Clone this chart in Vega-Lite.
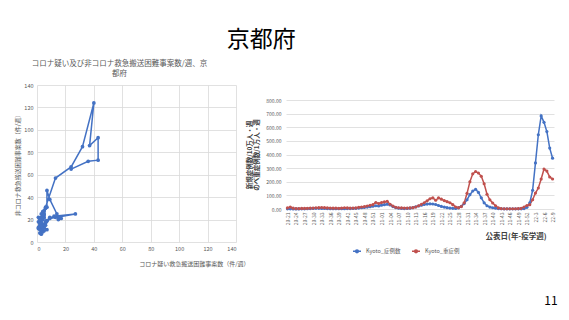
{
  "$schema": "https://vega.github.io/schema/vega-lite/v6.json",
  "background": "white",
  "padding": {"left": 14, "top": 28, "right": 5, "bottom": 5},
  "title": {"text": "京都府", "fontSize": 23, "font": "Noto Sans CJK JP", "fontWeight": "normal", "color": "#000000", "anchor": "middle", "dx": -25, "offset": 8},
  "config": {
    "font": "Noto Sans CJK JP",
    "view": {"stroke": null},
    "axis": {"gridColor": "#D9D9D9", "gridWidth": 0.8, "domain": false, "ticks": false, "labelColor": "#595959", "labelFontSize": 5.5, "titleColor": "#595959", "titleFontWeight": "normal", "labelFont": "Noto Sans CJK JP", "titleFont": "Noto Sans CJK JP"}
  },
  "bounds": "flush",
  "spacing": 50,
  "resolve": {"legend": {"color": "independent"}, "scale": {"color": "independent"}},
  "hconcat": [
    {
      "width": 199,
      "height": 157,
      "title": {"text": ["コロナ疑い及び非コロナ救急搬送困難事案数/週、京", "都府"], "fontSize": 7.5, "color": "#595959", "fontWeight": "normal", "dx": -17, "offset": 6, "lineHeight": 10},
      "data": {"values": [
        {"i": 1, "x": 1, "y": 18}, {"i": 2, "x": 2, "y": 14}, {"i": 3, "x": 3, "y": 10}, {"i": 4, "x": 2, "y": 12},
        {"i": 5, "x": 4, "y": 16}, {"i": 6, "x": 3, "y": 22}, {"i": 7, "x": 1, "y": 22}, {"i": 8, "x": 2, "y": 17},
        {"i": 9, "x": 4, "y": 12}, {"i": 10, "x": 3, "y": 7}, {"i": 11, "x": 2, "y": 8}, {"i": 12, "x": 5, "y": 10},
        {"i": 13, "x": 4, "y": 14}, {"i": 14, "x": 6, "y": 18}, {"i": 15, "x": 5, "y": 25}, {"i": 16, "x": 4, "y": 27},
        {"i": 17, "x": 6, "y": 30}, {"i": 18, "x": 5, "y": 22}, {"i": 19, "x": 3, "y": 25}, {"i": 20, "x": 4, "y": 20},
        {"i": 21, "x": 2, "y": 15}, {"i": 22, "x": 1, "y": 12}, {"i": 23, "x": 3, "y": 16}, {"i": 24, "x": 5, "y": 13},
        {"i": 25, "x": 7, "y": 11}, {"i": 26, "x": 4, "y": 9}, {"i": 27, "x": 3, "y": 13}, {"i": 28, "x": 2, "y": 20},
        {"i": 29, "x": 5, "y": 28}, {"i": 30, "x": 7, "y": 31}, {"i": 31, "x": 7, "y": 46}, {"i": 32, "x": 9, "y": 38},
        {"i": 33, "x": 14, "y": 25}, {"i": 34, "x": 15, "y": 20}, {"i": 35, "x": 17, "y": 21}, {"i": 36, "x": 16, "y": 22},
        {"i": 37, "x": 13, "y": 22}, {"i": 38, "x": 9, "y": 22}, {"i": 39, "x": 7, "y": 19}, {"i": 40, "x": 5, "y": 15},
        {"i": 41, "x": 4, "y": 12}, {"i": 42, "x": 6, "y": 15}, {"i": 43, "x": 9, "y": 21}, {"i": 44, "x": 27, "y": 25},
        {"i": 45, "x": 12, "y": 23}, {"i": 46, "x": 6, "y": 18}, {"i": 47, "x": 3, "y": 14}, {"i": 48, "x": 2, "y": 11},
        {"i": 49, "x": 1, "y": 13}, {"i": 50, "x": 3, "y": 17}, {"i": 51, "x": 5, "y": 24}, {"i": 52, "x": 6, "y": 31},
        {"i": 53, "x": 13, "y": 57}, {"i": 54, "x": 24, "y": 67}, {"i": 55, "x": 32, "y": 85}, {"i": 56, "x": 40, "y": 124},
        {"i": 57, "x": 37, "y": 86}, {"i": 58, "x": 43, "y": 93}, {"i": 59, "x": 43, "y": 73}, {"i": 60, "x": 36, "y": 72},
        {"i": 61, "x": 24, "y": 65}
      ]},
      "mark": {"type": "line", "color": "#4472C4", "strokeWidth": 1.5, "point": {"filled": true, "size": 14, "color": "#4472C4"}},
      "encoding": {
        "x": {"field": "x", "type": "quantitative", "scale": {"domain": [0, 140], "nice": false}, "axis": {"values": [0, 20, 40, 60, 80, 100, 120, 140], "title": "コロナ疑い救急搬送困難事案数（件/週）", "titleFontSize": 6, "labelPadding": 4, "titleX": 212, "titleY": 21, "titleAlign": "right", "titleBaseline": "middle"}},
        "y": {"field": "y", "type": "quantitative", "scale": {"domain": [0, 140], "nice": false}, "axis": {"values": [0, 20, 40, 60, 80, 100, 120, 140], "title": "非コロナ救急搬送困難事案数（件/週）", "titleFontSize": 6, "labelPadding": 4, "titlePadding": 3}},
        "order": {"field": "i", "type": "quantitative"}
      }
    },
    {
      "bounds": "flush",
      "spacing": 0,
      "resolve": {"legend": {"color": "independent"}, "scale": {"color": "independent"}},
      "vconcat": [
        {
          "width": 268,
          "height": 15,
          "data": {"values": []},
          "mark": {"type": "rule"},
          "encoding": {}
        },
        {
          "width": 268,
          "height": 109,
          "title": {"text": "11", "orient": "bottom", "anchor": "end", "fontSize": 12, "fontWeight": "normal", "color": "#000000", "offset": 40, "dx": 2},
          "data": {"values": [
            {"w": "20-21", "Kyoto_症例数": 1, "Kyoto_重症例": 8},
            {"w": "20-22", "Kyoto_症例数": 1, "Kyoto_重症例": 14},
            {"w": "20-23", "Kyoto_症例数": 0.5, "Kyoto_重症例": 6},
            {"w": "20-24", "Kyoto_症例数": 0.5, "Kyoto_重症例": 3},
            {"w": "20-25", "Kyoto_症例数": 0.5, "Kyoto_重症例": 3},
            {"w": "20-26", "Kyoto_症例数": 1, "Kyoto_重症例": 4},
            {"w": "20-27", "Kyoto_症例数": 1, "Kyoto_重症例": 4},
            {"w": "20-28", "Kyoto_症例数": 2, "Kyoto_重症例": 5},
            {"w": "20-29", "Kyoto_症例数": 3, "Kyoto_重症例": 6},
            {"w": "20-30", "Kyoto_症例数": 4, "Kyoto_重症例": 7},
            {"w": "20-31", "Kyoto_症例数": 5, "Kyoto_重症例": 9},
            {"w": "20-32", "Kyoto_症例数": 5, "Kyoto_重症例": 10},
            {"w": "20-33", "Kyoto_症例数": 4, "Kyoto_重症例": 11},
            {"w": "20-34", "Kyoto_症例数": 4, "Kyoto_重症例": 10},
            {"w": "20-35", "Kyoto_症例数": 3, "Kyoto_重症例": 8},
            {"w": "20-36", "Kyoto_症例数": 2, "Kyoto_重症例": 7},
            {"w": "20-37", "Kyoto_症例数": 2, "Kyoto_重症例": 6},
            {"w": "20-38", "Kyoto_症例数": 2, "Kyoto_重症例": 6},
            {"w": "20-39", "Kyoto_症例数": 2, "Kyoto_重症例": 5},
            {"w": "20-40", "Kyoto_症例数": 2, "Kyoto_重症例": 7},
            {"w": "20-41", "Kyoto_症例数": 2, "Kyoto_重症例": 9},
            {"w": "20-42", "Kyoto_症例数": 3, "Kyoto_重症例": 8},
            {"w": "20-43", "Kyoto_症例数": 3, "Kyoto_重症例": 6},
            {"w": "20-44", "Kyoto_症例数": 4, "Kyoto_重症例": 7},
            {"w": "20-45", "Kyoto_症例数": 5, "Kyoto_重症例": 8},
            {"w": "20-46", "Kyoto_症例数": 7, "Kyoto_重症例": 12},
            {"w": "20-47", "Kyoto_症例数": 9, "Kyoto_重症例": 15},
            {"w": "20-48", "Kyoto_症例数": 11, "Kyoto_重症例": 18},
            {"w": "20-49", "Kyoto_症例数": 14, "Kyoto_重症例": 22},
            {"w": "20-50", "Kyoto_症例数": 17, "Kyoto_重症例": 27},
            {"w": "20-51", "Kyoto_症例数": 20, "Kyoto_重症例": 32},
            {"w": "20-52", "Kyoto_症例数": 24, "Kyoto_重症例": 48},
            {"w": "20-53", "Kyoto_症例数": 22, "Kyoto_重症例": 40},
            {"w": "21-01", "Kyoto_症例数": 28, "Kyoto_重症例": 47},
            {"w": "21-02", "Kyoto_症例数": 32, "Kyoto_重症例": 52},
            {"w": "21-03", "Kyoto_症例数": 35, "Kyoto_重症例": 56},
            {"w": "21-04", "Kyoto_症例数": 30, "Kyoto_重症例": 35},
            {"w": "21-05", "Kyoto_症例数": 18, "Kyoto_重症例": 22},
            {"w": "21-06", "Kyoto_症例数": 10, "Kyoto_重症例": 13},
            {"w": "21-07", "Kyoto_症例数": 6, "Kyoto_重症例": 9},
            {"w": "21-08", "Kyoto_症例数": 4, "Kyoto_重症例": 8},
            {"w": "21-09", "Kyoto_症例数": 3, "Kyoto_重症例": 7},
            {"w": "21-10", "Kyoto_症例数": 4, "Kyoto_重症例": 7},
            {"w": "21-11", "Kyoto_症例数": 6, "Kyoto_重症例": 8},
            {"w": "21-12", "Kyoto_症例数": 10, "Kyoto_重症例": 10},
            {"w": "21-13", "Kyoto_症例数": 16, "Kyoto_重症例": 15},
            {"w": "21-14", "Kyoto_症例数": 22, "Kyoto_重症例": 24},
            {"w": "21-15", "Kyoto_症例数": 28, "Kyoto_重症例": 34},
            {"w": "21-16", "Kyoto_症例数": 33, "Kyoto_重症例": 46},
            {"w": "21-17", "Kyoto_症例数": 36, "Kyoto_重症例": 60},
            {"w": "21-18", "Kyoto_症例数": 38, "Kyoto_重症例": 75},
            {"w": "21-19", "Kyoto_症例数": 37, "Kyoto_重症例": 82},
            {"w": "21-20", "Kyoto_症例数": 33, "Kyoto_重症例": 64},
            {"w": "21-21", "Kyoto_症例数": 26, "Kyoto_重症例": 82},
            {"w": "21-22", "Kyoto_症例数": 19, "Kyoto_重症例": 72},
            {"w": "21-23", "Kyoto_症例数": 14, "Kyoto_重症例": 62},
            {"w": "21-24", "Kyoto_症例数": 10, "Kyoto_重症例": 54},
            {"w": "21-25", "Kyoto_症例数": 7, "Kyoto_重症例": 46},
            {"w": "21-26", "Kyoto_症例数": 5, "Kyoto_重症例": 32},
            {"w": "21-27", "Kyoto_症例数": 4, "Kyoto_重症例": 15},
            {"w": "21-28", "Kyoto_症例数": 8, "Kyoto_重症例": 10},
            {"w": "21-29", "Kyoto_症例数": 20, "Kyoto_重症例": 18},
            {"w": "21-30", "Kyoto_症例数": 40, "Kyoto_重症例": 45},
            {"w": "21-31", "Kyoto_症例数": 68, "Kyoto_重症例": 115},
            {"w": "21-32", "Kyoto_症例数": 105, "Kyoto_重症例": 200},
            {"w": "21-33", "Kyoto_症例数": 132, "Kyoto_重症例": 258},
            {"w": "21-34", "Kyoto_症例数": 145, "Kyoto_重症例": 275},
            {"w": "21-35", "Kyoto_症例数": 122, "Kyoto_重症例": 264},
            {"w": "21-36", "Kyoto_症例数": 82, "Kyoto_重症例": 240},
            {"w": "21-37", "Kyoto_症例数": 45, "Kyoto_重症例": 185},
            {"w": "21-38", "Kyoto_症例数": 24, "Kyoto_重症例": 108},
            {"w": "21-39", "Kyoto_症例数": 14, "Kyoto_重症例": 68},
            {"w": "21-40", "Kyoto_症例数": 9, "Kyoto_重症例": 44},
            {"w": "21-41", "Kyoto_症例数": 6, "Kyoto_重症例": 24},
            {"w": "21-42", "Kyoto_症例数": 3, "Kyoto_重症例": 8},
            {"w": "21-43", "Kyoto_症例数": 2, "Kyoto_重症例": 3},
            {"w": "21-44", "Kyoto_症例数": 1, "Kyoto_重症例": 2},
            {"w": "21-45", "Kyoto_症例数": 1, "Kyoto_重症例": 2},
            {"w": "21-46", "Kyoto_症例数": 1, "Kyoto_重症例": 2},
            {"w": "21-47", "Kyoto_症例数": 1, "Kyoto_重症例": 2},
            {"w": "21-48", "Kyoto_症例数": 1, "Kyoto_重症例": 2},
            {"w": "21-49", "Kyoto_症例数": 1, "Kyoto_重症例": 3},
            {"w": "21-50", "Kyoto_症例数": 1, "Kyoto_重症例": 4},
            {"w": "21-51", "Kyoto_症例数": 3, "Kyoto_重症例": 15},
            {"w": "21-52", "Kyoto_症例数": 12, "Kyoto_重症例": 26},
            {"w": "22-1", "Kyoto_症例数": 45, "Kyoto_重症例": 32},
            {"w": "22-2", "Kyoto_症例数": 137, "Kyoto_重症例": 68},
            {"w": "22-3", "Kyoto_症例数": 338, "Kyoto_重症例": 117},
            {"w": "22-4", "Kyoto_症例数": 545, "Kyoto_重症例": 154},
            {"w": "22-5", "Kyoto_症例数": 683, "Kyoto_重症例": 220},
            {"w": "22-6", "Kyoto_症例数": 636, "Kyoto_重症例": 293},
            {"w": "22-7", "Kyoto_症例数": 568, "Kyoto_重症例": 278},
            {"w": "22-8", "Kyoto_症例数": 447, "Kyoto_重症例": 235},
            {"w": "22-9", "Kyoto_症例数": 373, "Kyoto_重症例": 220}
          ]},
          "transform": [{"fold": ["Kyoto_症例数", "Kyoto_重症例"], "as": ["series", "value"]}],
          "mark": {"type": "line", "strokeWidth": 1.5, "point": {"filled": true, "size": 10}},
          "encoding": {
            "x": {"field": "w", "type": "ordinal", "sort": null, "scale": {"type": "point", "padding": 0.5},
              "axis": {"values": ["20-21", "20-24", "20-27", "20-30", "20-33", "20-36", "20-39", "20-42", "20-45", "20-48", "20-51", "21-01", "21-04", "21-07", "21-10", "21-13", "21-16", "21-19", "21-22", "21-25", "21-28", "21-31", "21-34", "21-37", "21-40", "21-43", "21-46", "21-49", "21-52", "22-3", "22-6", "22-9"],
                "labelAngle": -90, "labelFontSize": 5, "labelPadding": 3, "grid": false, "title": "公表日(年-疫学週)", "titleFontSize": 7.5, "titleFontWeight": "bold", "titleColor": "#404040", "titleX": 260, "titleY": 27, "titleAlign": "right", "titleBaseline": "middle"}},
            "y": {"field": "value", "type": "quantitative", "scale": {"domain": [0, 800], "nice": false},
              "axis": {"values": [0, 100, 200, 300, 400, 500, 600, 700, 800], "format": ".2f", "labelFontSize": 5, "labelPadding": 5, "title": ["新規症例数/10万人・週", "のべ重症例数/1万人・週"], "titleFontSize": 6.5, "titleFontWeight": "bold", "titleColor": "#404040", "titleLineHeight": 7, "titlePadding": 6}},
            "color": {"field": "series", "type": "nominal", "scale": {"domain": ["Kyoto_症例数", "Kyoto_重症例"], "range": ["#4472C4", "#C0504D"]},
              "legend": {"orient": "none", "legendX": 66, "legendY": 146, "title": null, "direction": "horizontal", "labelFontSize": 5.5, "labelColor": "#595959", "symbolType": "M-1,0H1M-0.35,0A0.35,0.35,0,1,1,0.35,0A0.35,0.35,0,1,1,-0.35,0", "symbolSize": 64, "symbolStrokeWidth": 1.5, "columnPadding": 8}}
          }
        }
      ]
    }
  ]
}
